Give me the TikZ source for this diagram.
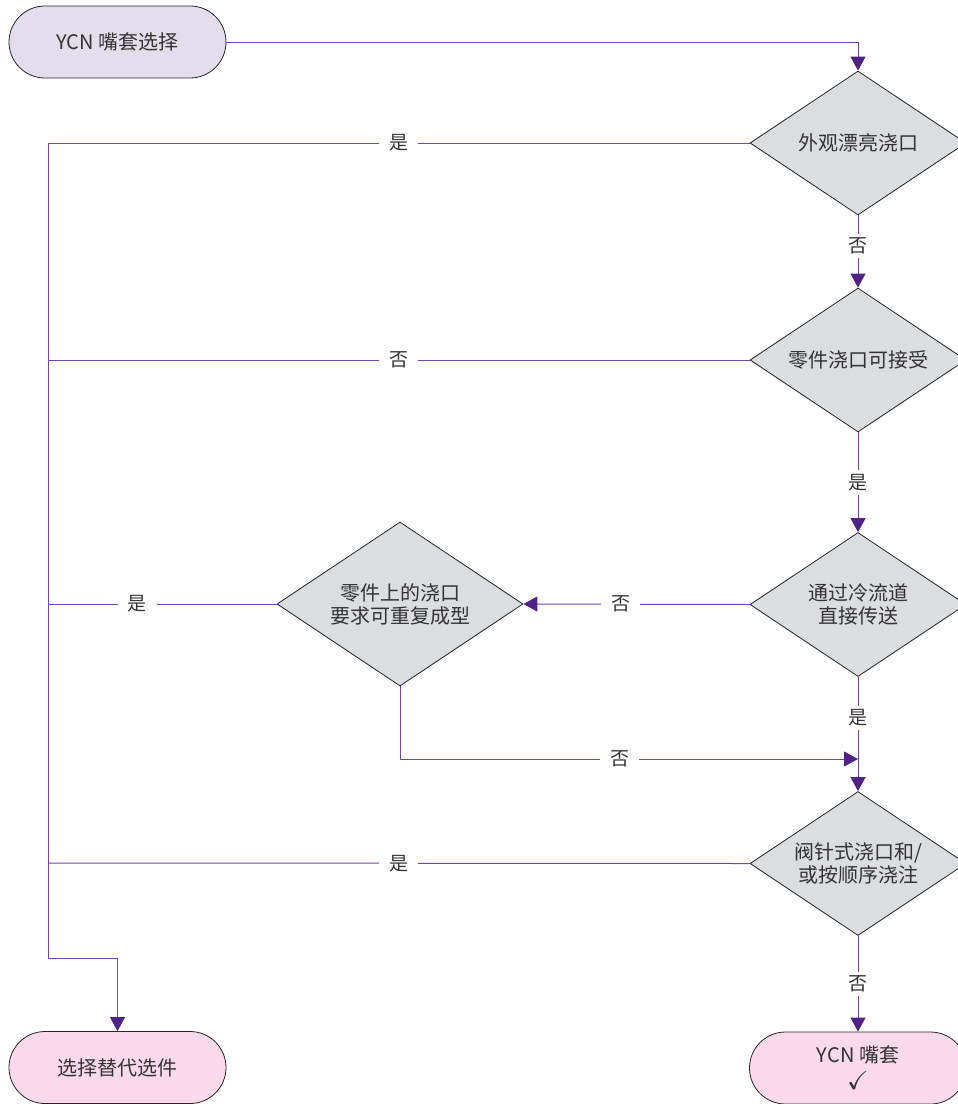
\documentclass[tikz,border=0pt]{standalone}
\usepackage{amssymb}
\usepackage{fontspec}
\setmainfont{Noto Sans CJK SC}
\usetikzlibrary{shapes.geometric,arrows.meta}
\definecolor{linec}{HTML}{7048A8}
\definecolor{tipc}{HTML}{4F2385}
\definecolor{txt}{HTML}{333333}
\definecolor{startfill}{HTML}{E4DEEC}
\definecolor{endfill}{HTML}{F9D9EA}
\definecolor{decfill}{HTML}{DCDDDF}
\tikzset{
  term/.style={draw=black!85, line width=0.8pt, rectangle, rounded corners=36pt,
    minimum width=217pt, minimum height=72pt, inner sep=0pt, text=txt,
    align=center, font=\fontsize{20}{23}\selectfont},
  decision/.style={draw=black!85, line width=0.8pt, fill=decfill, diamond, aspect=1.5,
    minimum width=216pt, minimum height=144pt, inner sep=0pt, text=txt,
    align=center, font=\fontsize{20}{23}\selectfont},
  flow/.style={draw=linec, line width=1pt},
  arrow/.style={flow, -{Triangle[length=14pt,width=15pt,color=tipc]}},
  lbl/.style={fill=white, inner xsep=10pt, inner ysep=4pt, text=txt,
    font=\fontsize{19}{20}\selectfont}
}
\begin{document}
\begin{tikzpicture}[x=1pt,y=-1pt]
\useasboundingbox (0,0) rectangle (958,1104);
% nodes
\node[term, fill=startfill] (start) at (117.5,42) {YCN 嘴套选择};
\node[decision] (d1) at (858,143) {外观漂亮浇口};
\node[decision] (d2) at (858,360) {零件浇口可接受};
\node[decision] (d3) at (858,604.5) {通过冷流道\\直接传送};
\node[decision, minimum width=246pt, minimum height=164pt] (d5) at (400,604) {零件上的浇口\\要求可重复成型};
\node[decision] (d4) at (858,863.5) {阀针式浇口和/\\或按顺序浇注};
\node[term, fill=endfill] (endok) at (858,1068) {YCN 嘴套\\[4pt]\scalebox{1.3}{$\checkmark$}};
\node[term, fill=endfill] (alt) at (117.5,1067.5) {选择替代选件};
% spine coordinates
\coordinate (s1) at (48,143);
\coordinate (s2) at (48,360);
\coordinate (s3) at (48,604);
\coordinate (s4) at (48,863);
\coordinate (sb) at (48,958);
\coordinate (m) at (858,759);
% connectors
\draw[arrow] (start.east) -| (d1.north);
\draw[arrow] (d1.south) -- node[lbl, pos=0.42]{否} (d2.north);
\draw[arrow] (d2.south) -- node[lbl]{是} (d3.north);
\draw[arrow] (d3.south) -- node[lbl, pos=0.36]{是} (d4.north);
\draw[arrow] (d4.south) -- node[lbl]{否} (endok.north);
\draw[arrow] (d3.west) -- node[lbl, pos=0.57]{否} (d5.east);
\draw[arrow] (d5.south) |- node[lbl, pos=0.74]{否} (m);
\draw[flow] (d1.west) -- node[lbl]{是} (s1);
\draw[flow] (d2.west) -- node[lbl]{否} (s2);
\draw[flow] (d5.west) -- node[lbl, pos=0.61]{是} (s3);
\draw[flow] (d4.west) -- node[lbl]{是} (s4);
\draw[arrow] (s1) -- (sb) -| (alt.north);
\end{tikzpicture}
\end{document}
